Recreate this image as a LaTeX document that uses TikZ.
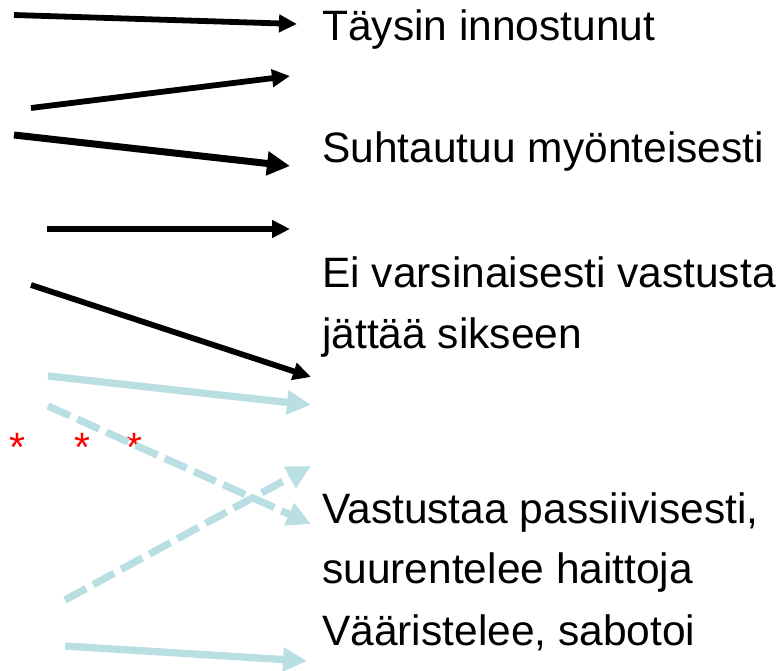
\documentclass[tikz,border=0pt]{standalone}
\usepackage{fontspec}
\setmainfont{Liberation Sans}
\usetikzlibrary{arrows.meta}
\definecolor{paleblue}{HTML}{B9DFE2}
\begin{document}
\begin{tikzpicture}[x=1pt,y=-1pt,
  lbl/.style={anchor=base west,inner sep=0pt,font=\fontsize{42.5}{61}\selectfont},
  star/.style={anchor=base,inner sep=0pt,text=red,font=\fontsize{41}{61}\selectfont},
  blk/.style={line width=5.8pt,draw=black,-{Triangle[length=18pt,width=17pt]}},
  blkbig/.style={line width=7pt,draw=black,-{Triangle[length=23pt,width=23pt]}},
  cy/.style={line width=7.3pt,draw=paleblue,-{Triangle[length=24pt,width=23pt]}},
  cyd/.style={cy,dash pattern=on 24pt off 8pt}]
\useasboundingbox (0,0) rectangle (781,671);
% texts
\node[lbl] (t1) at (322,41) {Täysin innostunut};
\node[lbl] (t2) at (322,163) {Suhtautuu myönteisesti};
\node[lbl] (t3) at (322,287) {Ei varsinaisesti vastusta};
\node[lbl] (t4) at (322,348) {jättää sikseen};
\node[lbl] (t5) at (322,523) {Vastustaa passiivisesti,};
\node[lbl] (t6) at (322,583) {suurentelee haittoja};
\node[lbl] (t7) at (322,645) {Vääristelee, sabotoi};
% asterisks
\node[star] (s1) at (17,461) {*};
\node[star] (s2) at (82,461) {*};
\node[star] (s3) at (134,461) {*};
% arrow end points
\coordinate (a1s) at (14,15);   \coordinate (a1e) at (297,24);
\coordinate (a2s) at (31,108);  \coordinate (a2e) at (290,76);
\coordinate (a3s) at (14,135);  \coordinate (a3e) at (290,166);
\coordinate (a4s) at (47,229);  \coordinate (a4e) at (290,229);
\coordinate (a5s) at (31,285);  \coordinate (a5e) at (311,377);
\coordinate (a6s) at (48,376);  \coordinate (a6e) at (311,405);
\coordinate (a7s) at (48,406);  \coordinate (a7e) at (311,524);
\coordinate (a8s) at (65,600);  \coordinate (a8e) at (311,466);
\coordinate (a9s) at (65,646);  \coordinate (a9e) at (307,661);
% arrows
\draw[blk] (a1s) -- (a1e);
\draw[blk] (a2s) -- (a2e);
\draw[blkbig] (a3s) -- (a3e);
\draw[blk] (a4s) -- (a4e);
\draw[blk] (a5s) -- (a5e);
\draw[cy] (a6s) -- (a6e);
\draw[cyd] (a7s) -- (a7e);
\draw[cyd] (a8s) -- (a8e);
\draw[cy] (a9s) -- (a9e);
\end{tikzpicture}
\end{document}
